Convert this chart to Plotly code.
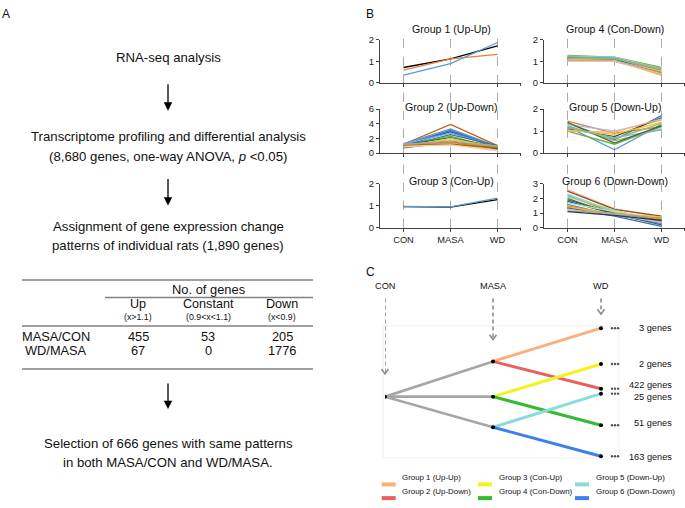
import plotly.graph_objects as go

W, H = 685, 508
FONT = "Liberation Sans, Arial, sans-serif"


def fx(p):
    return p / W


def fy(p):
    return 1 - p / H


stages = ["CON", "MASA", "WD"]

# ---------------- Panel B : expression profiles (CON, MASA, WD) ----------------
g1_con = [0.72, 0.60, 0.37]
g1_masa = [1.12, 1.12, 0.90]
g1_wd = [1.73, 1.33, 1.88]
g1_col = ["#000000", "#ED7D31", "#5B9BD5"]

g2_con = [1.2, 1.3, 1.1, 1.0, 1.2, 0.9, 1.0, 1.1, 0.8, 1.0, 0.9, 0.7, 1.1, 0.8, 1.0, 1.2, 0.9]
g2_masa = [3.9, 3.3, 3.1, 2.9, 2.7, 2.5, 2.3, 2.1, 2.0, 1.8, 1.6, 1.5, 1.4, 1.3, 1.2, 1.6, 1.1]
g2_wd = [1.0, 0.9, 0.8, 0.7, 0.9, 1.0, 0.6, 0.8, 0.7, 0.9, 0.6, 0.5, 0.8, 0.4, 0.7, 0.9, 0.3]
g2_col = ["#C55A11", "#5B9BD5", "#4472C4", "#255E91", "#7CAFDD", "#2E75B6", "#70AD47",
          "#43682B", "#A9D18E", "#FFC000", "#264478", "#636363", "#ED7D31", "#F4B183",
          "#997300", "#A5A5A5", "#F8CBAD"]

g3_con = [0.96, 0.97]
g3_masa = [0.94, 0.95]
g3_wd = [1.28, 1.35]
g3_col = ["#000000", "#5B9BD5"]

g4_con = [1.28, 1.25, 1.22, 1.20, 1.18, 1.15, 1.12, 1.10, 1.08, 1.05, 1.02, 1.14]
g4_masa = [1.20, 1.18, 1.20, 1.15, 1.12, 1.10, 1.08, 1.05, 1.02, 1.00, 1.00, 1.13]
g4_wd = [0.72, 0.68, 0.62, 0.58, 0.50, 0.45, 0.40, 0.35, 0.55, 0.48, 0.42, 0.65]
g4_col = ["#70AD47", "#A9D18E", "#9DC3E6", "#5B9BD5", "#A5A5A5", "#255E91", "#4472C4",
          "#FFC000", "#F4B183", "#ED7D31", "#C9C9C9", "#8CC168"]

g5_con = [1.45, 1.35, 1.30, 1.20, 1.10, 1.00, 1.25, 1.05, 1.15, 1.40, 1.00, 1.20]
g5_masa = [0.90, 0.60, 1.00, 0.15, 0.75, 0.40, 0.55, 0.85, 0.70, 0.45, 0.95, 0.65]
g5_wd = [1.20, 1.70, 1.50, 1.30, 1.60, 1.20, 1.10, 1.40, 1.05, 1.25, 1.55, 1.35]
g5_col = ["#ED7D31", "#4472C4", "#9DC3E6", "#5B9BD5", "#264478", "#70AD47", "#A5A5A5",
          "#FFC000", "#7CAFDD", "#43682B", "#F4B183", "#8CC168"]

g6_con = [2.60, 2.50, 2.30, 2.20, 2.10, 2.00, 1.90, 1.80, 1.70, 1.60, 1.50, 1.40, 1.35, 1.25, 1.15, 1.10]
g6_masa = [1.30, 1.25, 1.10, 1.00, 1.20, 0.90, 1.00, 0.95, 1.10, 0.85, 0.90, 0.95, 0.80, 0.90, 1.00, 0.85]
g6_wd = [0.70, 0.80, 0.50, 0.60, 0.40, 0.30, 0.55, 0.20, 0.65, 0.45, 0.70, 0.75, 0.10, 0.35, 0.60, 0.50]
g6_col = ["#D9C3C3", "#9E480E", "#9DC3E6", "#70AD47", "#A9D18E", "#4472C4", "#43682B",
          "#255E91", "#C5E0B4", "#5B9BD5", "#ED7D31", "#FFC000", "#2E75B6", "#F4B183",
          "#A5A5A5", "#203864"]

panel_b = [
    ("Group 1 (Up-Up)", g1_con, g1_masa, g1_wd, g1_col, 2, 1),
    ("Group 4 (Con-Down)", g4_con, g4_masa, g4_wd, g4_col, 2, 1),
    ("Group 2 (Up-Down)", g2_con, g2_masa, g2_wd, g2_col, 6, 2),
    ("Group 5 (Down-Up)", g5_con, g5_masa, g5_wd, g5_col, 2, 1),
    ("Group 3 (Con-Up)", g3_con, g3_masa, g3_wd, g3_col, 2, 1),
    ("Group 6 (Down-Down)", g6_con, g6_masa, g6_wd, g6_col, 3, 1),
]

# ---------------- Panel C : pattern tree ----------------
masa_levels = [1.06, 0.0, -0.92]          # Up, Con, Down branch at MASA
group_names = ["Group 1 (Up-Up)", "Group 2 (Up-Down)", "Group 3 (Con-Up)",
               "Group 4 (Con-Down)", "Group 5 (Down-Up)", "Group 6 (Down-Down)"]
group_from = [0, 0, 1, 1, 2, 2]
group_end = [2.06, 0.24, 0.98, -0.86, 0.09, -1.79]
group_genes = ["3 genes", "422 genes", "2 genes", "51 genes", "25 genes", "163 genes"]
group_colors = ["#F9B07A", "#EA6060", "#F3F322", "#33BB33", "#8ADCDC", "#3D80EC"]

# ---------------- Panel A : table ----------------
tab_cols = ["Up", "Constant", "Down"]
tab_sub = ["(x&gt;1.1)", "(0.9&lt;x&lt;1.1)", "(x&lt;0.9)"]
tab_rows = ["MASA/CON", "WD/MASA"]
tab_vals = [[455, 53, 205], [67, 0, 1776]]

fig = go.Figure()
ann = []
shapes = []

# layout of panel B cells (pixel boxes)
col_px = [(380, 521), (544, 685)]
row_px = [(34.7, 78.7), (105.3, 150.3), (181.7, 226.7)]
title_px = [24, 103, 179]

for k, (title, c, m, w, cols, ymax, dt) in enumerate(panel_b):
    r, cc = k // 2, k % 2
    ax = "" if k == 0 else str(k + 1)
    for i in range(len(c)):
        fig.add_trace(go.Scatter(
            x=stages, y=[c[i], m[i], w[i]], mode="lines",
            line=dict(color=cols[i], width=1.3), showlegend=False,
            xaxis="x" + ax, yaxis="y" + ax, hoverinfo="skip"))
    x0, x1 = col_px[cc]
    y0, y1 = row_px[r]
    fig.layout["xaxis" + ax] = dict(
        domain=[fx(x0), fx(x1)], anchor="y" + ax, type="category",
        categoryarray=stages, range=[-0.5, 2.5],
        showline=True, linecolor="#404040", linewidth=1,
        ticks="outside", ticklen=3, tickcolor="#404040",
        showticklabels=(r == 2), showgrid=False, zeroline=False,
        tickfont=dict(family=FONT, size=9.3, color="#222"))
    fig.layout["yaxis" + ax] = dict(
        domain=[fy(y1), fy(y0)], anchor="x" + ax, range=[0, ymax], dtick=dt,
        showline=True, linecolor="#404040", linewidth=1,
        ticks="outside", ticklen=3, tickcolor="#404040",
        showgrid=False, zeroline=False,
        tickfont=dict(family=FONT, size=9.5, color="#222"))
    ann.append(dict(text=title, xref="paper", yref="paper",
                    x=fx((x0 + x1) / 2 + 0.5), y=fy(title_px[r]),
                    showarrow=False, font=dict(family=FONT, size=10.6, color="#111"),
                    xanchor="center", yanchor="middle"))
    # end tick of the category axis
    shapes.append(dict(type="line", xref="paper", yref="paper",
                       x0=fx(x1 - 0.5), x1=fx(x1 - 0.5), y0=fy(y1), y1=fy(y1 + 3),
                       line=dict(color="#404040", width=1)))
    if r == 0:
        axn = "x" + ax
        for s in stages:
            shapes.append(dict(type="line", xref=axn, yref="paper", x0=s, x1=s,
                               y0=fy(226.7), y1=fy(32), layer="below",
                               line=dict(color="#A0A0A0", width=0.9, dash="dash")))

# ---------------- Panel C traces ----------------
CX0, CX1, CXR = 385, 601, 630
cy_top, cy_bot, root_px, unit = 300, 470, 399.3, 34.0
fig.layout["xaxis7"] = dict(domain=[fx(CX0), fx(CXR)],
                            range=[0, 2 * (CXR - CX0) / (CX1 - CX0)], anchor="y7",
                            visible=False)
fig.layout["yaxis7"] = dict(domain=[fy(cy_bot), fy(cy_top)],
                            range=[-(cy_bot - root_px) / unit, (root_px - cy_top) / unit],
                            anchor="x7", visible=False)

shapes.append(dict(type="rect", xref="paper", yref="paper", x0=fx(383), x1=fx(619),
                   y0=fy(462), y1=fy(327), line=dict(color="#F0F0F0", width=1), layer="below"))

for lv in masa_levels:
    fig.add_trace(go.Scatter(x=[0, 1], y=[0, lv], mode="lines",
                             line=dict(color="#A6A6A6", width=2.6), showlegend=False,
                             xaxis="x7", yaxis="y7", hoverinfo="skip"))
for g in range(6):
    fig.add_trace(go.Scatter(x=[1, 2], y=[masa_levels[group_from[g]], group_end[g]],
                             mode="lines", line=dict(color=group_colors[g], width=3),
                             showlegend=False, xaxis="x7", yaxis="y7", hoverinfo="skip"))
fig.add_trace(go.Scatter(x=[0] + [1] * 3 + [2] * 6, y=[0] + masa_levels + group_end,
                         mode="markers", marker=dict(color="#000", size=4),
                         showlegend=False, xaxis="x7", yaxis="y7", hoverinfo="skip"))

# ellipsis dots after each WD node (drawn as tiny markers)
dot_dx = [0.102, 0.130, 0.158]
dx_list, dy_list = [], []
for g in range(6):
    for d in dot_dx:
        dx_list.append(2 + d)
        dy_list.append(group_end[g])
fig.add_trace(go.Scatter(x=dx_list, y=dy_list, mode="markers",
                         marker=dict(color="#555", size=2.4, line=dict(width=0)),
                         showlegend=False, xaxis="x7", yaxis="y7", hoverinfo="skip"))

label_shift = [0, 3.5, 0, 2.5, -3.5, -1]
for g in range(6):
    ann.append(dict(text=group_genes[g], xref="paper", yref="y7", x=fx(674),
                    y=group_end[g], yshift=label_shift[g], xanchor="right",
                    showarrow=False, font=dict(family=FONT, size=9.2, color="#111")))

tips = [376, 341, 315]
for i, s in enumerate(stages):
    ann.append(dict(text=s, xref="x7", yref="paper", x=i, y=fy(286.7), showarrow=False,
                    font=dict(family=FONT, size=9.2, color="#111")))
    shapes.append(dict(type="line", xref="x7", yref="paper", x0=i, x1=i,
                       y0=fy(299), y1=fy(tips[i] - 1),
                       line=dict(color="#8C8C8C", width=1.6, dash="4px,3px")))
    xp = CX0 + i * (CX1 - CX0) / 2
    shapes.append(dict(type="path", xref="paper", yref="paper",
                       path=f"M {fx(xp - 3.5)} {fy(tips[i] - 5)} L {fx(xp)} {fy(tips[i])} "
                            f"L {fx(xp + 3.5)} {fy(tips[i] - 5)}",
                       line=dict(color="#8C8C8C", width=1.6)))

# legend of panel C
leg_x = [381.7, 478, 575]
leg_y = [489, 503]
for g in range(6):
    cx, ry = leg_x[g // 2], leg_y[g % 2]
    shapes.append(dict(type="line", xref="paper", yref="paper", x0=fx(cx), x1=fx(cx + 14),
                       y0=fy(ry), y1=fy(ry), line=dict(color=group_colors[g], width=4)))
    ann.append(dict(text=group_names[g], xref="paper", yref="paper", x=fx(cx + 18.5),
                    y=fy(ry), xanchor="left", showarrow=False,
                    font=dict(family=FONT, size=7.9, color="#111")))

# ---------------- Panel A ----------------
def txt(t, x, y, size=13.2, anchor="center"):
    ann.append(dict(text=t, xref="paper", yref="paper", x=fx(x), y=fy(y), xanchor=anchor,
                    yanchor="middle", showarrow=False,
                    font=dict(family=FONT, size=size, color="#111")))


txt("A", 0, 8, 12, "left")
txt("B", 364, 8, 12, "left")
txt("C", 364, 272, 12, "left")

CXA = 168
txt("RNA-seq analysis", CXA, 53)
txt("Transcriptome profiling and differential analysis", CXA, 133.5)
txt("(8,680 genes, one-way ANOVA, <i>p</i> &lt;0.05)", CXA, 153.5)
txt("Assignment of gene expression change", CXA, 225)
txt("patterns of individual rats (1,890 genes)", CXA, 244.5)
txt("Selection of 666 genes with same patterns", CXA, 447)
txt("in both MASA/CON and WD/MASA.", CXA, 466.5)

for (ya, yb) in [(79, 107), (176, 204), (385, 412)]:
    ann.append(dict(text="", xref="paper", yref="paper", x=fx(CXA), y=fy(yb),
                    ax=0, ay=-(yb - ya),
                    showarrow=True, arrowhead=2, arrowsize=1.3, arrowwidth=1.3,
                    arrowcolor="#000"))

# table
for (yl, xa, xb) in [(280, 22, 313), (298, 105, 313), (327, 22, 313), (371, 22, 313)]:
    shapes.append(dict(type="line", xref="paper", yref="paper", x0=fx(xa), x1=fx(xb),
                       y0=fy(yl), y1=fy(yl), line=dict(color="#808080", width=1.5)))
col_x = [138, 208, 282]
txt("No. of genes", 208, 290, 12.9)
for j in range(3):
    txt(tab_cols[j], col_x[j], 305, 12.6)
    txt(tab_sub[j], col_x[j], 318, 8.8)
row_y = [337.5, 352.5]
for i in range(2):
    txt(tab_rows[i], 56, row_y[i], 12.8)
    for j in range(3):
        txt(str(tab_vals[i][j]), col_x[j], row_y[i], 12.8)

fig.update_layout(width=W, height=H, margin=dict(l=0, r=0, t=0, b=0),
                  paper_bgcolor="white", plot_bgcolor="rgba(0,0,0,0)",
                  annotations=ann, shapes=shapes, showlegend=False,
                  font=dict(family=FONT))
fig.write_html("out.html", config={"displayModeBar": False},
               post_script="document.body.style.margin='0';"
                           "document.body.style.overflow='hidden';")
